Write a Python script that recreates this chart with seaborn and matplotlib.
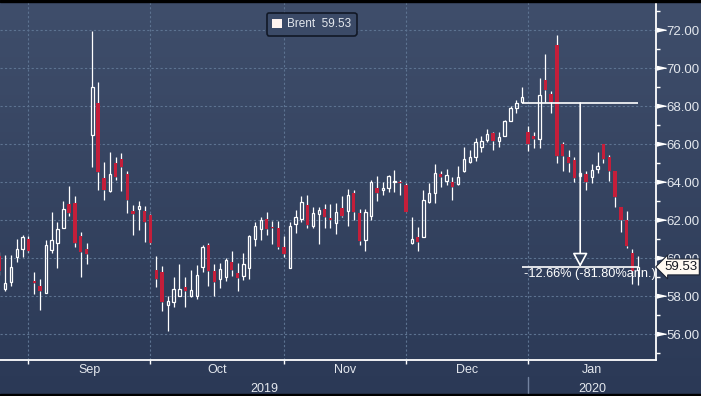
import numpy as np
import pandas as pd
import matplotlib
matplotlib.use('Agg')
from matplotlib import pyplot as plt
from matplotlib import transforms
from matplotlib.colors import LinearSegmentedColormap
from matplotlib.patches import Patch, Rectangle
import seaborn as sns

sns.set_theme(style='dark')
plt.rcParams['font.family'] = ['Liberation Sans', 'DejaVu Sans']

# --- DATA: Brent daily candles, 23 Aug 2019 .. 28 Jan 2020 (trading days) ---
days = pd.bdate_range('2019-08-23', '2020-01-28')
days = days[~days.isin(pd.to_datetime(['2019-12-25', '2020-01-01']))]

opens = [60.12, 58.37, 58.75, 60.04, 60.47, 61.00, 58.81, 58.54, 58.14, 60.44,
         60.77, 61.58, 62.84, 62.89, 61.18, 60.47, 66.47, 68.16, 64.23, 63.51,
         65.00, 65.21, 64.42, 62.46, 62.56, 62.49, 62.28, 59.37, 59.28, 57.53,
         57.67, 58.02, 58.46, 58.02, 58.02, 59.51, 60.70, 59.33, 58.89, 59.02,
         59.81, 59.21, 59.07, 59.47, 61.00, 61.53, 62.05, 61.63, 61.58, 60.60,
         59.47, 61.79, 62.05, 62.81, 61.70, 62.32, 62.58, 62.10, 61.82, 62.63,
         62.46, 63.40, 62.35, 60.95, 62.20, 63.67, 63.58, 63.67, 63.98, 63.98,
         63.84, 60.77, 61.09, 61.12, 62.96, 63.44, 64.40, 64.07, 64.02, 63.89,
         64.56, 65.04, 65.30, 65.82, 66.23, 66.58, 66.14, 66.40, 67.23, 67.88,
         68.19, 66.65, 66.44, 66.26, 69.37, 68.63, 71.21, 66.00, 65.33, 65.18,
         64.30, 64.42, 64.25, 64.68, 66.00, 65.30, 64.60, 62.70, 62.02, 60.25,
         59.35]
highs = [60.30, 60.16, 60.16, 61.00, 61.23, 61.18, 59.28, 58.90, 60.95, 62.44,
         61.91, 63.00, 63.80, 63.28, 61.39, 60.79, 71.96, 69.28, 65.04, 65.60,
         65.30, 65.54, 64.60, 62.80, 62.98, 62.75, 62.30, 60.12, 59.56, 58.00,
         58.98, 59.68, 58.98, 59.39, 59.65, 60.70, 60.77, 59.68, 59.72, 60.00,
         60.35, 59.72, 60.25, 61.20, 61.91, 62.14, 62.40, 61.96, 61.96, 61.18,
         61.88, 62.53, 63.25, 63.33, 62.67, 62.70, 62.84, 62.84, 62.88, 63.25,
         63.63, 63.58, 62.58, 62.58, 64.10, 64.30, 64.00, 64.37, 64.63, 64.10,
         63.93, 62.14, 61.65, 63.58, 63.93, 64.95, 64.60, 64.68, 64.25, 64.86,
         65.82, 65.70, 66.30, 66.44, 66.79, 66.65, 66.65, 67.28, 68.02, 68.33,
         69.02, 66.96, 66.61, 69.47, 70.74, 68.77, 71.74, 66.12, 65.70, 65.30,
         64.60, 64.60, 64.95, 65.60, 66.00, 65.42, 64.60, 62.70, 62.49, 60.47,
         60.12]
lows = [59.10, 58.28, 58.54, 59.80, 60.04, 60.30, 58.10, 57.28, 58.14, 60.26,
        59.46, 61.58, 62.20, 60.56, 58.98, 59.68, 64.77, 63.60, 63.07, 63.50,
        64.10, 63.54, 62.35, 61.23, 61.50, 60.82, 60.75, 58.46, 57.23, 56.18,
        57.40, 58.00, 57.40, 57.93, 57.82, 59.25, 58.54, 58.02, 58.42, 58.77,
        59.07, 58.28, 58.84, 58.89, 60.65, 60.96, 61.23, 60.74, 60.47, 60.04,
        59.47, 61.30, 61.88, 61.60, 61.60, 60.74, 61.60, 61.60, 61.26, 62.18,
        61.70, 62.00, 60.70, 60.35, 62.00, 63.00, 63.33, 63.49, 63.49, 63.30,
        62.44, 60.75, 60.35, 61.09, 62.90, 62.90, 63.75, 63.84, 63.07, 63.84,
        64.51, 65.00, 65.12, 65.60, 66.09, 65.70, 65.82, 66.40, 67.23, 67.63,
        68.16, 65.65, 65.77, 65.77, 68.23, 67.63, 65.00, 64.60, 64.51, 63.98,
        64.10, 63.60, 63.95, 64.50, 65.00, 64.07, 62.67, 61.35, 60.51, 58.63,
        58.58]
closes = [59.33, 58.68, 59.54, 60.47, 61.12, 60.39, 58.67, 58.25, 60.70, 60.95,
          61.53, 62.58, 62.35, 60.79, 60.33, 60.21, 69.00, 64.51, 63.56, 64.42,
          64.25, 64.77, 63.07, 62.33, 62.74, 61.88, 60.77, 58.88, 57.67, 57.75,
          58.37, 58.37, 58.25, 58.32, 59.12, 60.56, 59.33, 58.72, 59.42, 59.89,
          59.37, 58.95, 59.68, 61.18, 61.70, 62.00, 61.53, 61.56, 60.60, 60.21,
          61.70, 62.14, 62.95, 61.75, 62.35, 62.53, 62.14, 62.02, 62.40, 62.23,
          63.33, 62.40, 60.88, 62.44, 64.02, 63.40, 63.67, 64.32, 64.07, 63.93,
          62.44, 61.00, 60.86, 63.05, 63.44, 64.46, 64.28, 64.37, 63.72, 64.25,
          65.21, 65.30, 66.12, 66.18, 66.53, 66.14, 66.39, 67.23, 67.88, 68.16,
          68.46, 66.00, 66.26, 68.58, 68.86, 68.23, 65.39, 65.35, 65.00, 64.19,
          64.46, 63.98, 64.65, 64.86, 65.21, 64.56, 63.19, 62.02, 60.65, 59.32,
          59.53]

month_labels = ['Sep', 'Oct', 'Nov', 'Dec', 'Jan']
year_labels = ['2019', '2020']
last_price = 59.53
ref_price = 68.16
measure_text = '-12.66% (-81.80%ann.)'

# colours
bg_top, bg_bottom = '#3f4e6b', '#2b3956'
down_col = '#c41e3a'
text_col = '#e4e8ee'
grid_col = '#5d7391'

df = pd.DataFrame({'open': opens, 'high': highs, 'low': lows, 'close': closes}, index=days)
df['x'] = np.arange(len(df))
df['top'] = df[['open', 'close']].max(axis=1)
df['bot'] = df[['open', 'close']].min(axis=1)
df['body'] = (df['top'] - df['bot']).clip(lower=0.06)
up = df['close'] >= df['open']

fig = plt.figure(figsize=(7.01, 3.96), dpi=100)

# gradient background
bgax = fig.add_axes([0, 0, 1, 1], zorder=-10)
grad = np.linspace(0, 1, 256).reshape(-1, 1)
bgax.imshow(grad, aspect='auto', origin='lower', extent=[0, 1, 0, 1],
            cmap=LinearSegmentedColormap.from_list('bg', [bg_bottom, bg_top]))
bgax.axis('off')

ax = fig.add_axes([0, 36 / 396, 655.7 / 701, 358 / 396])
ax.set_facecolor('none')

# wicks (split so hollow bodies stay hollow)
ax.vlines(df['x'], df['top'], df['high'], colors='white', lw=0.9, zorder=3)
ax.vlines(df['x'], df['low'], df['bot'], colors='white', lw=0.9, zorder=3)
# bodies
ax.bar(df.loc[up, 'x'], df.loc[up, 'body'], bottom=df.loc[up, 'bot'], width=0.42,
       fill=False, edgecolor='white', linewidth=0.9, zorder=3)
ax.bar(df.loc[~up, 'x'], df.loc[~up, 'body'], bottom=df.loc[~up, 'bot'], width=0.58,
       color=down_col, linewidth=0, zorder=3)

# x axis: month boundaries on last trading day of each month
pos = pd.Series(df['x'].values, index=days)
month_end = pos.groupby(days.to_period('M')).max().values
bounds = month_end[:-1]
x_right = 113.0
ax.set_xlim(0.1, x_right)
ax.set_xticks(bounds)
ax.set_xticklabels([])
mids = list((bounds[:-1] + bounds[1:]) / 2) + [(bounds[-1] + x_right) / 2]
ax.set_xticks(mids, minor=True)
ax.set_xticklabels(month_labels, minor=True)
ax.tick_params(axis='x', which='major', length=3, width=1, color='white', direction='out', bottom=True)
ax.tick_params(axis='x', which='minor', length=0, pad=3, labelsize=9, labelcolor=text_col)

xtrans = transforms.blended_transform_factory(ax.transData, ax.transAxes)
ax.text((0.1 + bounds[-1]) / 2, -0.0885, year_labels[0], transform=xtrans, ha='center',
        va='baseline', fontsize=9, color=text_col)
ax.text((bounds[-1] + x_right) / 2, -0.0885, year_labels[1], transform=xtrans, ha='center',
        va='baseline', fontsize=9, color=text_col)
ax.plot([bounds[-1], bounds[-1]], [-0.0475, -0.11], transform=xtrans, color='#7383a0',
        lw=1, clip_on=False)

# y axis on the right
ax.set_ylim(54.632, 73.474)
yt = np.arange(56, 73, 2)
ax.set_yticks(yt)
ax.set_yticklabels([f'{v:.2f}' for v in yt])
ax.set_yticks(np.arange(55, 74, 2), minor=True)
ax.yaxis.set_ticks_position('right')
ax.tick_params(axis='y', which='major', length=0, pad=8, labelsize=9.5, labelcolor=text_col)
ax.tick_params(axis='y', which='minor', length=3, width=1, color='white')
ytrans = transforms.blended_transform_factory(ax.transAxes, ax.transData)
tri = [(0, -0.22), (0, 0.22), (1, 0)]
ax.plot(np.full(len(yt), 1.0015), yt, ls='none', marker=tri, ms=13, color='white',
        transform=ytrans, clip_on=False)

ax.grid(True, which='major', color=grid_col, ls=(0, (2, 2)), lw=0.8)
ax.set_axisbelow(True)
for side in ['left', 'top']:
    ax.spines[side].set_visible(False)
for side in ['right', 'bottom']:
    ax.spines[side].set_visible(True)
    ax.spines[side].set_color('white')
    ax.spines[side].set_linewidth(1.3)

# measure annotation
i0 = days.get_loc(pd.Timestamp('2019-12-30'))
i1 = days.get_loc(pd.Timestamp('2020-01-14'))
i2 = len(days) - 1
ax.hlines(ref_price, i0, i2, colors='white', lw=1.2, zorder=5)
ax.hlines(last_price, i0, i2 + 0.2, colors='white', lw=1.2, zorder=5)
ax.annotate('', xy=(i1, last_price), xytext=(i1, ref_price), zorder=5,
            arrowprops=dict(arrowstyle='-|>,head_length=0.7,head_width=0.38',
                            fc='#30405c', ec='white', lw=1.2, shrinkA=0, shrinkB=0))
ax.text(i0 + 0.3, last_price - 0.05, measure_text, color='white', fontsize=9.2,
        ha='left', va='top', zorder=6)

# last price tag (sits over the 60.00 label, as on the terminal)
ax.text(1.013, last_price, f'{last_price:.2f}', transform=ytrans, ha='left', va='center',
        fontsize=9.5, color='#141820', zorder=7, clip_on=False,
        bbox=dict(boxstyle='larrow,pad=0.15', fc='#fffaf2', ec='#1b2333', lw=0.8))

# legend
leg = ax.legend(handles=[Patch(fc='#fff4f0', ec='none')], labels=[f'Brent  {last_price:.2f}'],
                loc='upper left', bbox_to_anchor=(267 / 655.7, 347 / 358), frameon=True,
                fancybox=True, fontsize=8.5, handlelength=0.8, handleheight=0.8,
                handletextpad=0.45, borderpad=0.45, borderaxespad=0)
frame = leg.get_frame()
frame.set_facecolor('#3b4a67')
frame.set_edgecolor('#111826')
frame.set_linewidth(1.2)
frame.set_alpha(1)
for t in leg.get_texts():
    t.set_color(text_col)

# thin black borders top and bottom
fig.add_artist(Rectangle((0, 1 - 2 / 396), 1, 2 / 396, transform=fig.transFigure, color='black', zorder=20))
fig.add_artist(Rectangle((0, 0), 1, 2 / 396, transform=fig.transFigure, color='black', zorder=20))

fig.savefig('out.png', dpi=100)
